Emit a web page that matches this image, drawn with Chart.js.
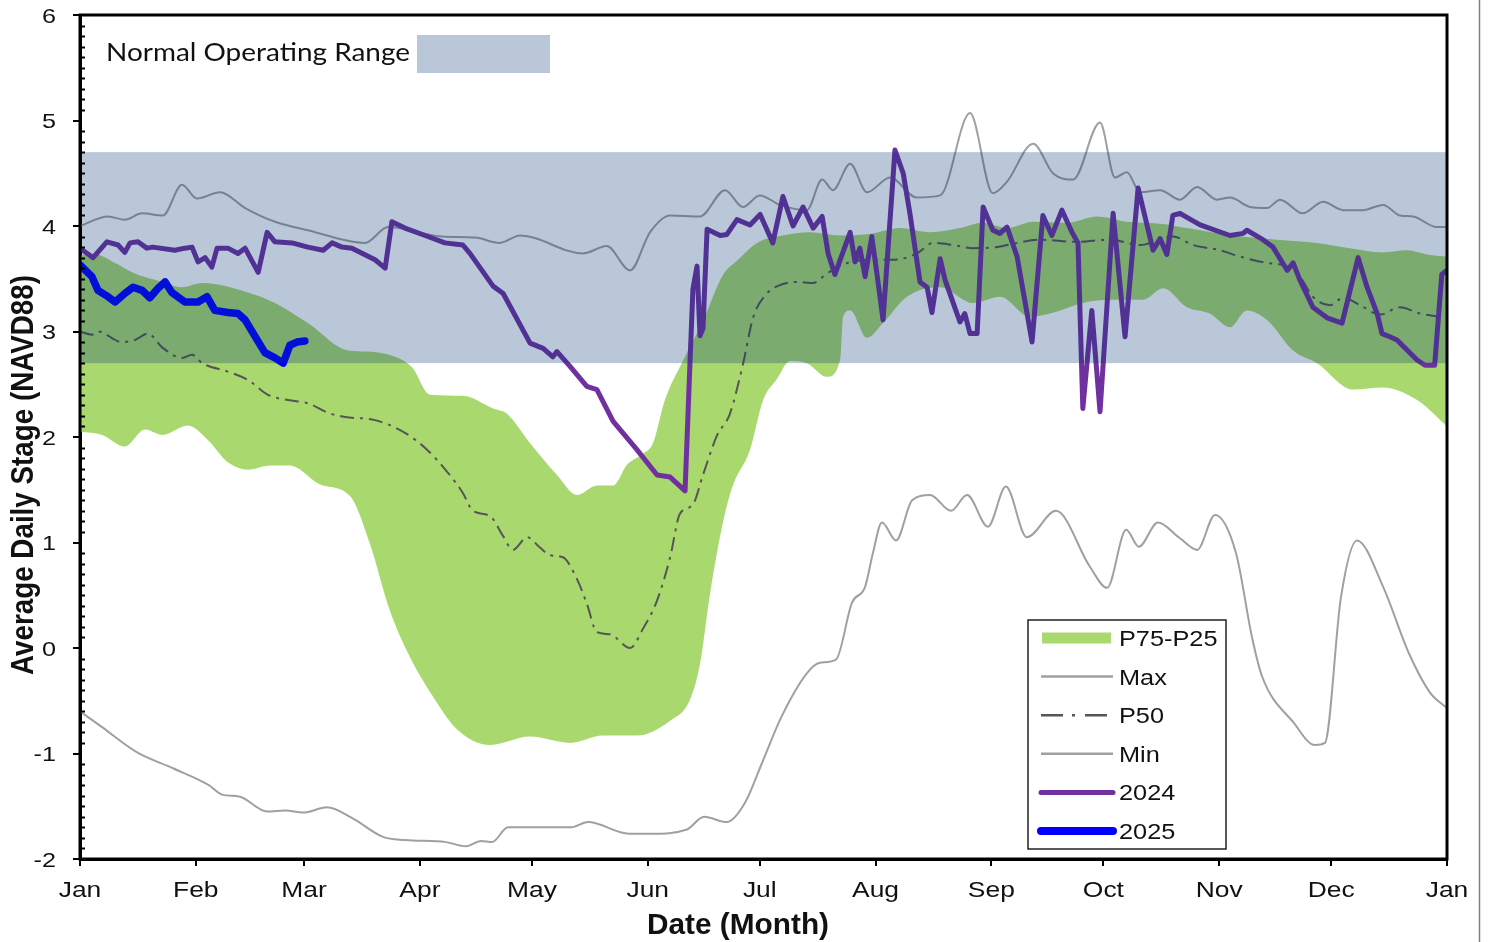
<!DOCTYPE html>
<html>
<head>
<meta charset="utf-8">
<script src="https://cdn.jsdelivr.net/npm/chart.js@4.4.1/dist/chart.umd.min.js"></script>
<style>
  body { margin: 0; background: #fff; }
  #wrap { position: relative; width: 1489px; height: 942px; }
</style>
</head>
<body>
<div id="wrap"><canvas id="stageChart"></canvas></div>
<script>
const monthStarts = [0, 31, 60, 91, 121, 152, 182, 213, 244, 274, 305, 335, 366];
const monthLabels = ["Jan", "Feb", "Mar", "Apr", "May", "Jun", "Jul", "Aug", "Sep", "Oct", "Nov", "Dec", "Jan"];
const yTicks = [-2, -1, 0, 1, 2, 3, 4, 5, 6];
const normalRange = [2.7, 4.7];

const p75Days = [0, 4, 9.4, 14.7, 20.1, 27.3, 32.7, 45, 52.2, 61, 71.8, 77.1, 84.3, 88.9, 93.7, 102.5, 110.6, 114.3, 120.5, 127.7, 133.1, 138.4, 142.7, 146.5, 150.7, 153.4, 156.6, 161.4, 166.8, 172.2, 175.9, 181.3, 188.2, 195.4, 203.5, 212.3, 219.5, 227.6, 235.6, 241.8, 248.2, 255.2, 264.3, 272.3, 280.3, 290, 296.4, 308.7, 320.5, 331.2, 340, 348.9, 355.3, 360.6, 366];
const p75Vals = [3.72, 3.73, 3.65, 3.55, 3.49, 3.42, 3.46, 3.37, 3.27, 3.08, 2.82, 2.81, 2.76, 2.66, 2.40, 2.39, 2.27, 2.22, 1.94, 1.64, 1.45, 1.54, 1.54, 1.74, 1.84, 1.94, 2.35, 2.72, 3.10, 3.54, 3.67, 3.84, 3.91, 3.94, 3.91, 3.93, 3.98, 3.94, 3.98, 4.03, 3.98, 4.04, 4.03, 4.09, 4.04, 4.02, 3.98, 3.91, 3.87, 3.84, 3.79, 3.75, 3.77, 3.73, 3.71];

const p25Days = [0, 5.9, 12, 17.4, 22, 28.9, 34.3, 39.6, 45, 50.9, 56.2, 64.3, 72.3, 77.6, 83, 88.4, 94.5, 100.9, 109.8, 120.5, 131.2, 140, 149.1, 158, 163.3, 166, 168.7, 172.2, 174.8, 179.4, 182.9, 186.6, 190.1, 194.6, 200, 203.5, 204.3, 206.2, 210.7, 215, 221.4, 230.3, 239.1, 246.3, 254.4, 259.7, 268.5, 275.8, 284.6, 290, 296.4, 302.5, 307.9, 312.4, 317.8, 324.8, 331.2, 340.8, 348.9, 358, 366];
const p25Vals = [2.05, 2.02, 1.91, 2.07, 2.02, 2.11, 1.97, 1.76, 1.69, 1.73, 1.73, 1.55, 1.44, 0.99, 0.35, -0.09, -0.46, -0.77, -0.92, -0.84, -0.90, -0.83, -0.83, -0.69, -0.49, -0.15, 0.52, 1.20, 1.54, 1.88, 2.35, 2.55, 2.72, 2.70, 2.57, 2.73, 3.14, 3.20, 2.94, 3.08, 3.33, 3.42, 3.27, 3.33, 3.14, 3.17, 3.27, 3.30, 3.30, 3.41, 3.23, 3.17, 3.04, 3.20, 3.11, 2.82, 2.70, 2.45, 2.47, 2.35, 2.10];

const maxDays = [0, 7.5, 12, 16.6, 22.2, 27.3, 31.3, 37.5, 44.2, 52.2, 61, 76.3, 82.5, 97, 105.8, 112.4, 117.8, 134.7, 141, 147.3, 152.6, 158, 166, 172.7, 177.5, 182, 187.4, 194.6, 198.7, 201.6, 206.2, 210.7, 216.9, 224, 230.3, 238.3, 244.4, 248.2, 255.2, 260.5, 265.9, 273.1, 277.1, 280.3, 283.8, 289.2, 294.5, 299.1, 304.4, 307.9, 313.3, 317.8, 321.3, 327.4, 332.8, 338.2, 343.5, 348.9, 353.4, 356.9, 363.3, 366];
const maxVals = [4.0, 4.09, 4.06, 4.12, 4.10, 4.39, 4.26, 4.32, 4.17, 4.04, 3.96, 3.84, 3.99, 3.90, 3.89, 3.84, 3.91, 3.74, 3.81, 3.58, 3.94, 4.10, 4.09, 4.34, 4.18, 4.29, 4.20, 4.15, 4.44, 4.34, 4.59, 4.32, 4.46, 4.27, 4.29, 5.07, 4.31, 4.42, 4.78, 4.50, 4.44, 4.98, 4.46, 4.51, 4.32, 4.34, 4.25, 4.37, 4.25, 4.27, 4.18, 4.17, 4.25, 4.12, 4.23, 4.15, 4.15, 4.20, 4.10, 4.09, 3.99, 3.99];

const p50Days = [0, 3.2, 4.8, 11.2, 14.7, 18.2, 22, 27.3, 30, 32.7, 39.6, 45, 50.3, 55.7, 61, 66.4, 71, 79, 87, 92.9, 98.3, 102.5, 105.2, 109.8, 113.3, 115.9, 119.7, 123.2, 125.8, 129.3, 133.1, 135.7, 138.4, 141.9, 147.3, 150.7, 154.5, 158, 160.6, 164.1, 166.8, 170.5, 174, 177.5, 180.2, 183.9, 187.4, 192, 196.3, 200, 205.4, 212.3, 217.7, 224.1, 228.4, 233.8, 239.1, 245.5, 250.9, 257, 266.9, 275.8, 283.8, 292.6, 298, 305.2, 310.6, 317.8, 322.1, 326.6, 330.1, 334.7, 338.2, 342.7, 348.1, 353.4, 358.8, 366];
const p50Vals = [3.0, 2.97, 3.0, 2.90, 2.92, 2.98, 2.85, 2.75, 2.78, 2.70, 2.62, 2.54, 2.40, 2.35, 2.32, 2.23, 2.19, 2.16, 2.04, 1.88, 1.67, 1.47, 1.30, 1.25, 1.06, 0.93, 1.05, 0.95, 0.88, 0.86, 0.65, 0.42, 0.15, 0.13, 0.0, 0.18, 0.45, 0.86, 1.27, 1.36, 1.64, 2.01, 2.22, 2.69, 3.13, 3.36, 3.44, 3.47, 3.46, 3.55, 3.65, 3.68, 3.68, 3.74, 3.84, 3.82, 3.79, 3.80, 3.84, 3.87, 3.85, 3.87, 3.82, 3.90, 3.82, 3.77, 3.71, 3.65, 3.63, 3.52, 3.33, 3.25, 3.32, 3.25, 3.16, 3.23, 3.17, 3.13];

const minDays = [0, 5.9, 15.3, 24.9, 34.5, 38, 42.8, 50.1, 54.9, 59.7, 66.1, 72.8, 81.1, 87, 98, 103.3, 107.4, 110.3, 114.6, 131.5, 136, 147, 152.9, 162.5, 167.1, 173.2, 178, 182.6, 187.7, 194.6, 198.1, 202.4, 206.7, 210.2, 212.3, 214.7, 218.5, 222.8, 227.6, 233.2, 237.5, 243.1, 247.9, 253.5, 261.3, 270.4, 275, 280.1, 283.5, 288.6, 294.2, 299.1, 303.9, 309.5, 313.8, 316.5, 325, 330.6, 333.3, 337.6, 341.9, 348.9, 355.8, 361.4, 366];
const minVals = [-0.6, -0.75, -0.99, -1.14, -1.30, -1.39, -1.41, -1.55, -1.54, -1.56, -1.51, -1.61, -1.79, -1.82, -1.84, -1.88, -1.83, -1.84, -1.70, -1.70, -1.65, -1.76, -1.76, -1.72, -1.60, -1.65, -1.47, -1.09, -0.66, -0.24, -0.14, -0.11, 0.43, 0.58, 0.90, 1.19, 1.02, 1.40, 1.45, 1.30, 1.45, 1.15, 1.53, 1.05, 1.30, 0.77, 0.57, 1.12, 0.96, 1.19, 1.05, 0.93, 1.26, 0.90, 0.10, -0.27, -0.71, -0.92, -0.90, 0.48, 1.02, 0.58, -0.05, -0.42, -0.57];

const y2024Days = [0, 3.5, 7.2, 10.2, 12, 13.4, 15.5, 17.9, 19.5, 25.4, 28.1, 30, 31.6, 33.5, 35.3, 36.7, 39.6, 42.3, 44.2, 47.7, 50.1, 52.2, 56.8, 61, 65.1, 67.5, 70.1, 72.8, 79, 81.7, 83.5, 87, 92.4, 97.7, 102.5, 104.4, 110.6, 113.3, 120.5, 124, 126.6, 127.7, 131.2, 135.7, 138.4, 142.7, 149.1, 154.5, 158, 162, 163.3, 164.1, 165.2, 166, 166.8, 167.9, 171.4, 173.2, 175.9, 179.4, 182.1, 185.5, 188.2, 190.9, 193.6, 196.3, 198.7, 200.3, 202.1, 206.2, 207.5, 208.8, 210.2, 212, 213.4, 215, 218.2, 220.4, 222.2, 224.9, 226.8, 228.1, 230.3, 231.6, 233.5, 235.6, 236.9, 238.3, 240.2, 241.8, 244.4, 246.3, 248.2, 250.9, 254.9, 257.8, 260.2, 262.9, 265.6, 267.2, 268.5, 270.9, 273.1, 276.6, 279.8, 283.3, 287.3, 289.2, 291, 292.6, 294.5, 299.9, 307.9, 311.4, 312.4, 316.7, 319.4, 323.2, 324.8, 326.6, 330.1, 333.9, 337.9, 342.2, 344.6, 347.3, 348.6, 350.7, 352.6, 358, 360.1, 362.7, 364.6, 366];
const y2024Vals = [3.79, 3.70, 3.85, 3.82, 3.75, 3.84, 3.85, 3.79, 3.80, 3.77, 3.79, 3.80, 3.66, 3.70, 3.61, 3.79, 3.79, 3.74, 3.79, 3.56, 3.94, 3.85, 3.84, 3.80, 3.77, 3.84, 3.80, 3.79, 3.68, 3.60, 4.04, 3.98, 3.91, 3.84, 3.82, 3.74, 3.43, 3.36, 2.89, 2.84, 2.76, 2.81, 2.67, 2.48, 2.45, 2.15, 1.88, 1.64, 1.62, 1.49, 2.69, 3.40, 3.62, 2.96, 3.03, 3.97, 3.91, 3.92, 4.06, 4.01, 4.11, 3.84, 4.28, 4.00, 4.18, 3.98, 4.09, 3.74, 3.54, 3.94, 3.66, 3.79, 3.52, 3.90, 3.54, 3.11, 4.72, 4.50, 4.12, 3.47, 3.42, 3.18, 3.69, 3.49, 3.30, 3.09, 3.17, 2.98, 2.98, 4.18, 3.96, 3.93, 3.99, 3.71, 2.90, 4.10, 3.91, 4.15, 3.94, 3.84, 2.27, 3.20, 2.24, 4.12, 2.95, 4.36, 3.77, 3.88, 3.73, 4.10, 4.12, 4.01, 3.91, 3.93, 3.96, 3.87, 3.80, 3.58, 3.65, 3.49, 3.23, 3.13, 3.08, 3.70, 3.42, 3.17, 2.98, 2.95, 2.92, 2.73, 2.68, 2.68, 3.54, 3.58];

const y2025Days = [0, 3.2, 4.8, 7.5, 9.4, 12, 14.2, 16.6, 18.7, 20.9, 22.8, 24.6, 28.1, 31.6, 34, 36.1, 39.6, 42.3, 44.2, 49.5, 52.2, 54.4, 56.2, 58.1, 60.2];
const y2025Vals = [3.63, 3.52, 3.39, 3.33, 3.28, 3.36, 3.42, 3.39, 3.32, 3.41, 3.47, 3.37, 3.28, 3.28, 3.33, 3.20, 3.18, 3.17, 3.11, 2.80, 2.75, 2.70, 2.87, 2.90, 2.91];

const GREEN = "#a9d86e";
const GRAY = "#a0a0a0";
const DARK = "#555555";
const PURPLE = "#7030a0";
const BLUE = "#0000ff";
const BAND = "rgba(5, 55, 116, 0.28)";
const FONT = "'Liberation Sans', Arial, sans-serif";

function points(days, vals) {
  return days.map((d, i) => ({ x: d, y: vals[i] }));
}

function drawText(ctx, str, x, y, font, sx, align) {
  ctx.save();
  ctx.font = font;
  ctx.fillStyle = "#111";
  ctx.textAlign = align;
  ctx.textBaseline = "alphabetic";
  ctx.translate(x, y);
  ctx.scale(sx, 1);
  ctx.fillText(str, 0, 0);
  ctx.restore();
}

const legendItems = [
  { label: "P75-P25", box: GREEN },
  { label: "Max", color: GRAY, width: 2.5 },
  { label: "P50", color: DARK, width: 2.5, dash: [22, 9, 3, 10] },
  { label: "Min", color: GRAY, width: 2.5 },
  { label: "2024", color: PURPLE, width: 5 },
  { label: "2025", color: BLUE, width: 8 }
];

const decor = {
  id: "decor",
  afterDatasetsDraw(chart) {
    const { ctx, chartArea: a, scales: { y } } = chart;
    const top = y.getPixelForValue(normalRange[1]);
    const bot = y.getPixelForValue(normalRange[0]);
    ctx.save();
    ctx.fillStyle = BAND;
    ctx.fillRect(a.left, top, a.right - a.left, bot - top);
    ctx.restore();
  },
  afterDraw(chart) {
    const { ctx, chartArea: a, scales: { x, y } } = chart;
    ctx.save();

    // minor ticks inside the y axis
    ctx.strokeStyle = "#000";
    ctx.lineWidth = 2;
    for (let k = 1; k < 80; k++) {
      if (k % 10 === 0) continue;
      const py = Math.round(y.getPixelForValue(-2 + k / 10)) + 0.5;
      ctx.beginPath();
      ctx.moveTo(a.left, py);
      ctx.lineTo(a.left + 5, py);
      ctx.stroke();
    }

    // frame
    ctx.lineWidth = 3;
    ctx.strokeRect(a.left, a.top, a.right - a.left, a.bottom - a.top);

    // tick labels
    x.ticks.forEach((t, i) => {
      drawText(ctx, monthLabels[i], x.getPixelForValue(t.value), a.bottom + 38, "22px " + FONT, 1.2, "center");
    });
    y.ticks.forEach(t => {
      drawText(ctx, String(t.value), a.left - 24, y.getPixelForValue(t.value) + 7.5, "21px " + FONT, 1.2, "right");
    });

    // axis titles
    ctx.font = "bold 29px " + FONT;
    const xt = "Date (Month)";
    drawText(ctx, xt, 738, a.bottom + 75, "bold 29px " + FONT, 182 / ctx.measureText(xt).width, "center");

    const yt = "Average Daily Stage (NAVD88)";
    ctx.font = "bold 27px " + FONT;
    const ytScale = 400 / ctx.measureText(yt).width;
    ctx.save();
    ctx.translate(33, 475);
    ctx.rotate(-Math.PI / 2);
    ctx.scale(ytScale, 1.17);
    ctx.fillStyle = "#111";
    ctx.textAlign = "center";
    ctx.fillText(yt, 0, 0);
    ctx.restore();

    // normal operating range label
    const nt = "Normal Operating Range";
    ctx.font = "25px Lato, 'Open Sans', sans-serif";
    drawText(ctx, nt, a.left + 26, a.top + 46, ctx.font, 304 / ctx.measureText(nt).width, "left");
    ctx.fillStyle = BAND;
    ctx.fillRect(a.left + 337, a.top + 20, 133, 38);

    // legend
    const lx = a.right - 419, ly = a.bottom - 239;
    ctx.fillStyle = "#fff";
    ctx.fillRect(lx, ly, 198, 229);
    ctx.strokeStyle = "#222";
    ctx.lineWidth = 1.5;
    ctx.strokeRect(lx, ly, 198, 229);
    legendItems.forEach((item, i) => {
      const cy = ly + 18 + i * 38.6;
      if (item.box) {
        ctx.fillStyle = item.box;
        ctx.fillRect(lx + 14, cy - 5.5, 69, 11);
      } else {
        ctx.save();
        ctx.strokeStyle = item.color;
        ctx.lineWidth = item.width;
        ctx.lineCap = item.width > 4 ? "round" : "butt";
        ctx.setLineDash(item.dash || []);
        ctx.beginPath();
        ctx.moveTo(lx + 13, cy);
        ctx.lineTo(lx + 85, cy);
        ctx.stroke();
        ctx.restore();
      }
      drawText(ctx, item.label, lx + 91, cy + 8, "22px " + FONT, 1.15, "left");
    });

    // page edge line
    ctx.strokeStyle = "#808080";
    ctx.lineWidth = 1.5;
    ctx.beginPath();
    ctx.moveTo(1479.5, 0);
    ctx.lineTo(1479.5, 942);
    ctx.stroke();

    ctx.restore();
  }
};

const lineBase = { pointRadius: 0, fill: false, borderJoinStyle: "round" };

new Chart(document.getElementById("stageChart").getContext("2d"), {
  type: "line",
  data: {
    datasets: [
      { ...lineBase, label: "2025", data: points(y2025Days, y2025Vals), borderColor: BLUE, borderWidth: 7.5, borderCapStyle: "round", tension: 0 },
      { ...lineBase, label: "2024", data: points(y2024Days, y2024Vals), borderColor: PURPLE, borderWidth: 5, tension: 0 },
      { ...lineBase, label: "Min", data: points(minDays, minVals), borderColor: GRAY, borderWidth: 2, cubicInterpolationMode: "monotone" },
      { ...lineBase, label: "P50", data: points(p50Days, p50Vals), borderColor: DARK, borderWidth: 2, borderDash: [14, 6, 3, 6], cubicInterpolationMode: "monotone" },
      { ...lineBase, label: "Max", data: points(maxDays, maxVals), borderColor: GRAY, borderWidth: 2, cubicInterpolationMode: "monotone" },
      { ...lineBase, label: "P75", data: points(p75Days, p75Vals), borderColor: "rgba(0,0,0,0)", borderWidth: 0, cubicInterpolationMode: "monotone" },
      { ...lineBase, label: "P75-P25", data: points(p25Days, p25Vals), borderColor: "rgba(0,0,0,0)", borderWidth: 0, backgroundColor: GREEN, fill: "-1", cubicInterpolationMode: "monotone" }
    ]
  },
  options: {
    responsive: true,
    maintainAspectRatio: false,
    devicePixelRatio: 1,
    animation: false,
    events: [],
    layout: { padding: { top: 15, right: 42, left: 0, bottom: 0 } },
    plugins: { legend: { display: false }, tooltip: { enabled: false } },
    scales: {
      x: {
        type: "linear",
        min: 0,
        max: 366,
        afterBuildTicks: scale => { scale.ticks = monthStarts.map(v => ({ value: v })); },
        afterFit: scale => { scale.height = 83; },
        ticks: { display: false },
        grid: { drawOnChartArea: false, drawTicks: true, tickLength: 7, color: "#000", lineWidth: 2 },
        border: { display: true, color: "#000", width: 3 }
      },
      y: {
        type: "linear",
        min: -2,
        max: 6,
        afterBuildTicks: scale => { scale.ticks = yTicks.map(v => ({ value: v })); },
        afterFit: scale => { scale.width = 80; },
        ticks: { display: false },
        grid: { drawOnChartArea: false, drawTicks: true, tickLength: 7, color: "#000", lineWidth: 2 },
        border: { display: true, color: "#000", width: 3 }
      }
    }
  },
  plugins: [decor]
});
</script>
</body>
</html>
